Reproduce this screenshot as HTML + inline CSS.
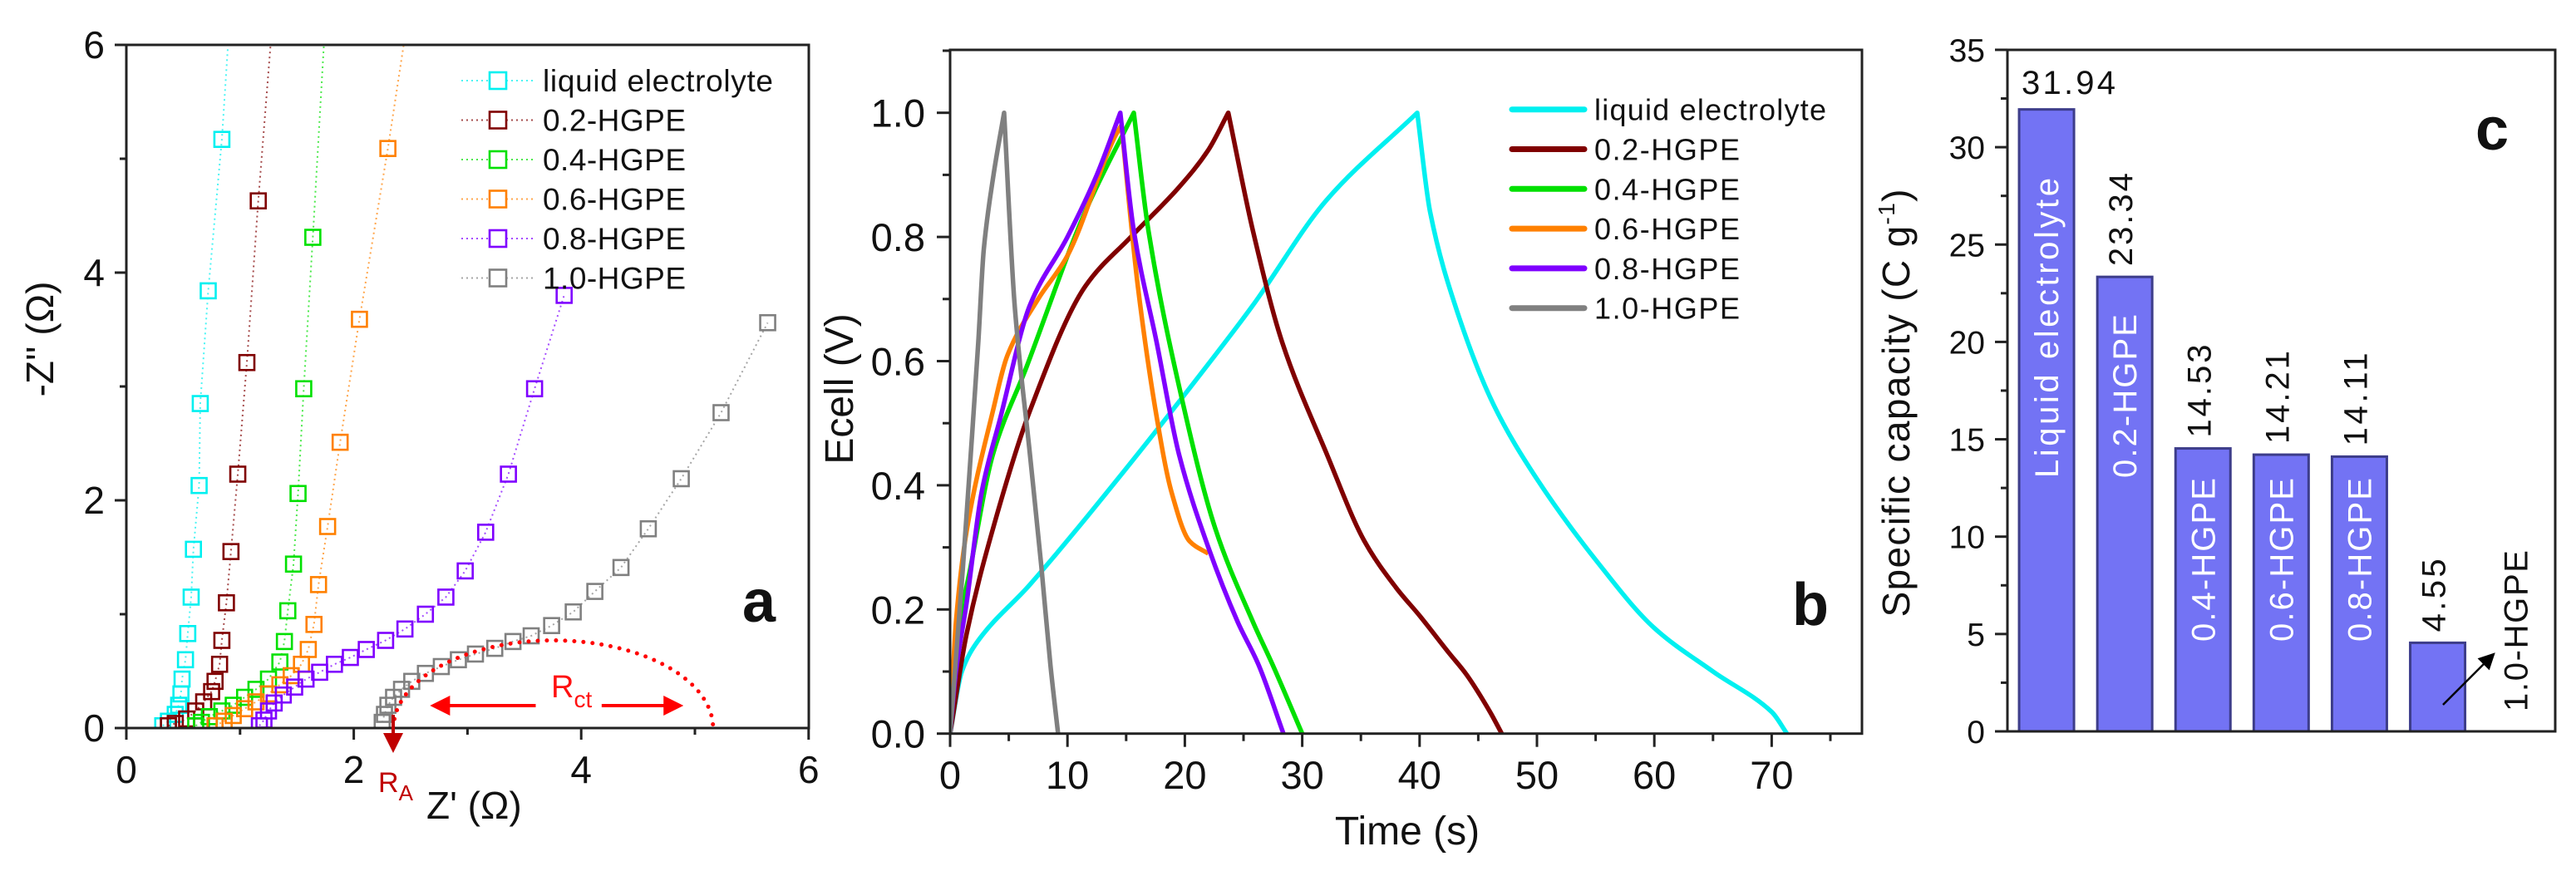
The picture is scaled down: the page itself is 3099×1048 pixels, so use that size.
<!DOCTYPE html>
<html><head><meta charset="utf-8"><style>
html,body{margin:0;padding:0;background:#fff;}
svg{display:block;font-family:"Liberation Sans",Arial,sans-serif;}
</style></head><body>
<svg id="chart" width="3099" height="1048" viewBox="0 0 3099 1048" xmlns="http://www.w3.org/2000/svg">
<defs>
<clipPath id="clipA"><rect x="152" y="54" width="821" height="822"/></clipPath>
<clipPath id="clipB"><rect x="1143" y="60" width="1097" height="823"/></clipPath>
<marker id="arrR" markerWidth="6" markerHeight="6" refX="5" refY="3" orient="auto" markerUnits="strokeWidth"><path d="M0,0 L6,3 L0,6 z" fill="#ff0000"/></marker>
<marker id="arrD" markerWidth="6" markerHeight="6" refX="5" refY="3" orient="auto" markerUnits="strokeWidth"><path d="M0,0 L6,3 L0,6 z" fill="#c00000"/></marker>
<marker id="arrK" markerWidth="8" markerHeight="8" refX="7" refY="4" orient="auto" markerUnits="strokeWidth"><path d="M0,0 L8,4 L0,8 z" fill="#000"/></marker>
</defs>
<g id="panelA"></g>
<g id="panelB"></g>
<g id="panelC"></g>
</svg>
<script>
// ---------- data: panel a (Nyquist) ----------
const seriesNames = ["liquid electrolyte","0.2-HGPE","0.4-HGPE","0.6-HGPE","0.8-HGPE","1.0-HGPE"];
const seriesColors = ["#00f0f0","#800000","#00e000","#ff8000","#7f00ff","#808080"];
const nyqLiquidX = [0.32,0.37,0.43,0.46,0.48,0.49,0.52,0.54,0.57,0.59,0.64,0.65,0.72,0.84,0.92];
const nyqLiquidY = [0.02,0.06,0.12,0.2,0.3,0.43,0.6,0.83,1.15,1.57,2.13,2.85,3.84,5.17,6.4];
const nyq02X = [0.37,0.43,0.53,0.61,0.68,0.75,0.78,0.82,0.84,0.88,0.92,0.98,1.06,1.16,1.3];
const nyq02Y = [0.02,0.04,0.08,0.15,0.23,0.32,0.41,0.56,0.77,1.1,1.55,2.23,3.21,4.63,6.4];
const nyq04X = [0.61,0.66,0.73,0.84,0.94,1.04,1.14,1.25,1.35,1.39,1.42,1.47,1.51,1.56,1.64,1.76];
const nyq04Y = [0.02,0.05,0.1,0.15,0.2,0.27,0.34,0.43,0.58,0.76,1.03,1.44,2.06,2.98,4.31,6.4];
const nyq06X = [0.78,0.86,0.94,1.04,1.14,1.25,1.35,1.45,1.54,1.6,1.65,1.69,1.77,1.88,2.05,2.3,2.5];
const nyq06Y = [0.02,0.06,0.11,0.17,0.23,0.3,0.38,0.46,0.56,0.69,0.91,1.26,1.77,2.51,3.59,5.09,6.4];
const nyq08X = [1.17,1.21,1.25,1.3,1.38,1.48,1.58,1.7,1.83,1.97,2.11,2.28,2.45,2.63,2.81,2.98,3.16,3.36,3.59,3.85];
const nyq08Y = [0.02,0.07,0.15,0.22,0.29,0.36,0.43,0.49,0.56,0.62,0.69,0.77,0.87,1.0,1.15,1.38,1.72,2.23,2.98,3.8];
const nyq10X = [2.25,2.27,2.3,2.35,2.42,2.51,2.63,2.77,2.92,3.07,3.24,3.4,3.56,3.74,3.93,4.12,4.35,4.59,4.88,5.23,5.64];
const nyq10Y = [0.05,0.12,0.2,0.27,0.34,0.41,0.48,0.54,0.6,0.65,0.7,0.76,0.81,0.9,1.02,1.2,1.41,1.75,2.19,2.77,3.56];
const nyqTicks = [0,2,4,6];
const rctStartEnd = [2.35,5.16];
const rctPeak = [3.72,0.77];

// ---------- data: panel b (GCD) ----------
const gcdLiquidT = [0,1,2.4,6.8,14.7,22.6,25.8,32.1,39.8,40.9,43.2,46.3,50,55,60,65,70,71.3];
const gcdLiquidV = [0,0.1,0.15,0.24,0.42,0.61,0.69,0.86,1.0,0.84,0.68,0.53,0.41,0.28,0.17,0.1,0.035,0];
const gcd02T = [0,1.4,3.65,6.8,11.5,15.4,19.5,22,23.7,25.8,28.3,32.1,35.3,38,40,42.5,44,46,47];
const gcd02V = [0,0.16,0.33,0.52,0.72,0.8,0.88,0.94,1.0,0.81,0.63,0.45,0.31,0.235,0.19,0.13,0.095,0.035,0];
const gcd04T = [0,0.6,1.76,3.65,6.5,11.5,15.65,16.9,19.5,22.6,25.8,27.5,30];
const gcd04V = [0,0.15,0.27,0.45,0.59,0.84,1.0,0.81,0.56,0.33,0.18,0.11,0];
const gcd06T = [0,0.5,1.44,3.65,4.9,7.5,10,14,14.6,16,17.6,18.85,20.4,22];
const gcd06V = [0,0.18,0.33,0.52,0.61,0.7,0.77,0.96,0.98,0.72,0.51,0.39,0.31,0.29];
const gcd08T = [0,0.5,1.4,2.7,4.3,6.8,10,12.5,14.5,15.65,17.6,19.5,22,24.5,26.3,28.4];
const gcd08V = [0,0.1,0.21,0.39,0.51,0.69,0.8,0.9,1.0,0.81,0.63,0.45,0.3,0.18,0.11,0];
const gcd10T = [0,1.1,1.76,2.4,2.87,3.7,4.6,5.5,6.8,7.77,8.55,9.2];
const gcd10V = [0,0.27,0.45,0.63,0.78,0.9,1.0,0.69,0.45,0.27,0.11,0];
const timeTicks = [0,10,20,30,40,50,60,70];
const voltTicks = [0,0.2,0.4,0.6,0.8,1.0];

// ---------- data: panel c (bars) ----------
const barCategories = ["Liquid electrolyte","0.2-HGPE","0.4-HGPE","0.6-HGPE","0.8-HGPE","1.0-HGPE"];
const barValues = [31.94,23.34,14.53,14.21,14.11,4.55];
const barValueLabels = ["31.94","23.34","14.53","14.21","14.11","4.55"];
const capTicks = [0,5,10,15,20,25,30,35];

const NS="http://www.w3.org/2000/svg";
function mk(parent,tag,attrs,text){const e=document.createElementNS(NS,tag);for(const k in attrs)e.setAttribute(k,attrs[k]);if(text!==undefined)e.textContent=text;parent.appendChild(e);return e;}

// ===== Panel A =====
(function(){
const g=document.getElementById('panelA');
const X=x=>152+x*136.8, Y=y=>876-y*137;
const data=[[nyqLiquidX,nyqLiquidY],[nyq02X,nyq02Y],[nyq04X,nyq04Y],[nyq06X,nyq06Y],[nyq08X,nyq08Y],[nyq10X,nyq10Y]];
const plot=mk(g,'g',{'clip-path':'url(#clipA)'});


data.forEach((d,i)=>{
  const sg=mk(plot,'g',{});
  
  
  const pts=d[0].map((x,j)=>X(x)+','+Y(d[1][j])).join(' ');
  mk(sg,'polyline',{points:pts,fill:'none',stroke:seriesColors[i],'stroke-width':2,'stroke-dasharray':'2,4',opacity:0.7});
  d[0].forEach((x,j)=>{
    const r=mk(sg,'rect',{x:X(x)-9,y:Y(d[1][j])-9,width:18,height:18,fill:'none',stroke:seriesColors[i],'stroke-width':2.6});
    
    
  });
});
const cx=(rctStartEnd[0]+rctStartEnd[1])/2, rx=(rctStartEnd[1]-rctStartEnd[0])/2;
let arc='';
for(let k=0;k<=60;k++){const th=Math.PI*k/60;const xx=cx-rx*Math.cos(th);const yy=rctPeak[1]*Math.sin(th);arc+=(k?'L':'M')+X(xx)+','+Y(yy);}
const arcEl=mk(plot,'path',{d:arc,fill:'none',stroke:'#ff0000','stroke-width':5,'stroke-dasharray':'0,11','stroke-linecap':'round'});


const fr=mk(g,'rect',{x:152,y:54,width:821,height:822,fill:'none',stroke:'#222','stroke-width':3});


for(let v=0;v<=6;v++){
  const maj=nyqTicks.includes(v);
  mk(g,'line',{x1:X(v),x2:X(v),y1:876,y2:876+(maj?14:8),stroke:'#222','stroke-width':3});
  mk(g,'line',{x1:152,x2:152-(maj?14:8),y1:Y(v),y2:Y(v),stroke:'#222','stroke-width':3});
}
nyqTicks.forEach(v=>{
  const t=mk(g,'text',{x:X(v),y:942,'font-size':46,'text-anchor':'middle',fill:'#111'},String(v));
  
  
  const t2=mk(g,'text',{x:126,y:Y(v)+16,'font-size':46,'text-anchor':'end',fill:'#111'},String(v));
  
  
});
const lg=mk(g,'g',{});


seriesNames.forEach((n,i)=>{
  const yy=97+i*47.5;
  mk(lg,'line',{x1:555,x2:645,y1:yy,y2:yy,stroke:seriesColors[i],'stroke-width':2,'stroke-dasharray':'2,4',opacity:0.7});
  mk(lg,'rect',{x:589,y:yy-10,width:20,height:20,fill:'#fff',stroke:seriesColors[i],'stroke-width':2.6});
  const t=mk(lg,'text',{x:653,y:yy+13,'font-size':37,fill:'#111'},n);
  
  
  if(i===0)t.setAttribute('textLength',277);else t.setAttribute('textLength',172);
});
mk(g,'line',{x1:X(3.6),x2:X(2.7),y1:849,y2:849,stroke:'#ff0000','stroke-width':4,'marker-end':'url(#arrR)'});
mk(g,'line',{x1:X(4.18),x2:X(4.87),y1:849,y2:849,stroke:'#ff0000','stroke-width':4,'marker-end':'url(#arrR)'});
const rt=mk(g,'text',{x:663,y:839,'font-size':38,fill:'#ff1010'});


rt.innerHTML='R<tspan font-size="28" dy="12">ct</tspan>';
mk(g,'line',{x1:473,x2:473,y1:860,y2:902,stroke:'#c00000','stroke-width':4,'marker-end':'url(#arrD)'});
const ra=mk(g,'text',{x:455,y:953,'font-size':34,fill:'#c00000'});


ra.innerHTML='R<tspan font-size="26" dy="10">A</tspan>';
const xt=mk(g,'text',{x:513,y:985,'font-size':46,fill:'#111'},"Z' (Ω)");


const yt=mk(g,'text',{x:0,y:0,'font-size':46,fill:'#111','text-anchor':'middle',transform:'translate(64,408) rotate(-90)'},"-Z'' (Ω)");


const pl=mk(g,'text',{x:893,y:748,'font-size':72,'font-weight':'bold',fill:'#111'},'a');


})();

// ===== Panel B =====
(function(){
const g=document.getElementById('panelB');
const X=t=>1143+t*14.12, Y=v=>882.7-v*747;
const data=[[gcdLiquidT,gcdLiquidV],[gcd02T,gcd02V],[gcd04T,gcd04V],[gcd06T,gcd06V],[gcd08T,gcd08V],[gcd10T,gcd10V]];
const plot=mk(g,'g',{'clip-path':'url(#clipB)'});


// monotone cubic (Fritsch-Carlson) path for one monotone piece, in pixel space
function monoPiece(xs,ys){
  const n=xs.length; if(n<2) return '';
  const P=xs.map((x,i)=>[X(x),Y(ys[i])]);
  const d=[],m=new Array(n);
  for(let i=0;i<n-1;i++) d.push((P[i+1][1]-P[i][1])/(P[i+1][0]-P[i][0]));
  m[0]=d[0]; m[n-1]=d[n-2];
  for(let i=1;i<n-1;i++){ m[i]=(d[i-1]*d[i]<=0)?0:(2/(1/d[i-1]+1/d[i])); }
  let s='';
  for(let i=0;i<n-1;i++){
    const h=P[i+1][0]-P[i][0];
    s+=' C'+(P[i][0]+h/3)+','+(P[i][1]+m[i]*h/3)+' '+(P[i+1][0]-h/3)+','+(P[i+1][1]-m[i+1]*h/3)+' '+P[i+1][0]+','+P[i+1][1];
  }
  return s;
}
function curve(xs,ys){
  let pk=0; ys.forEach((v,i)=>{if(v>ys[pk])pk=i;});
  let s='M'+X(xs[0])+','+Y(ys[0]);
  s+=monoPiece(xs.slice(0,pk+1),ys.slice(0,pk+1));
  s+=monoPiece(xs.slice(pk),ys.slice(pk));
  return s;
}
[0,1,2,3,4,5].forEach(i=>{
  const p=mk(plot,'path',{d:curve(data[i][0],data[i][1]),fill:'none',stroke:seriesColors[i],'stroke-width':5.5,'stroke-linejoin':'round'});
  
  
});
const fr=mk(g,'rect',{x:1143,y:60,width:1097,height:822.7,fill:'none',stroke:'#222','stroke-width':3});


for(let t=0;t<=75;t+=5){const maj=t%10===0;mk(g,'line',{x1:X(t),x2:X(t),y1:882.7,y2:882.7+(maj?16:9),stroke:'#222','stroke-width':3});}
for(let k=0;k<=11;k++){const v=k/10;const maj=k%2===0;mk(g,'line',{x1:1143,x2:1143-(maj?16:9),y1:Y(v),y2:Y(v),stroke:'#222','stroke-width':3});}
timeTicks.forEach(t=>{const e=mk(g,'text',{x:X(t),y:949,'font-size':47,'text-anchor':'middle',fill:'#111'},String(t));
  
  });
voltTicks.forEach(v=>{const e=mk(g,'text',{x:1113,y:Y(v)+17,'font-size':47,'text-anchor':'end',fill:'#111'},v.toFixed(1));
  
  });
const lg=mk(g,'g',{});


seriesNames.forEach((n,i)=>{
  const yy=131.7+i*47.8;
  mk(lg,'line',{x1:1819,x2:1906,y1:yy,y2:yy,stroke:seriesColors[i],'stroke-width':7,'stroke-linecap':'round'});
  const t=mk(lg,'text',{x:1918,y:yy+13,'font-size':36,fill:'#111'},n);
  
  
  t.setAttribute('textLength',i===0?279:175);
});
const xt=mk(g,'text',{x:1693,y:1016,'font-size':48,'text-anchor':'middle',fill:'#111'},'Time (s)');


const yt=mk(g,'text',{x:0,y:0,'font-size':48,'text-anchor':'middle',fill:'#111',transform:'translate(1026,468) rotate(-90)'},'Ecell (V)');


const pl=mk(g,'text',{x:2156,y:752,'font-size':72,'font-weight':'bold',fill:'#111'},'b');


})();

// ===== Panel C =====
(function(){
const g=document.getElementById('panelC');
const Y=v=>880-v*23.43;
const slot=94.1, X=i=>2415+(i+0.5)*slot, bw=66;
barValues.forEach((v,i)=>{
  const r=mk(g,'rect',{x:X(i)-bw/2,y:Y(v),width:bw,height:880-Y(v),fill:'#7373f4',stroke:'#3d3d8a','stroke-width':3});
  
  
});
barCategories.forEach((c,i)=>{
  let t;
  if(i<5){
    const bottom=i<2?575:772;
    const len=i===0?361:197;
    t=mk(g,'text',{x:0,y:0,'font-size':40,fill:'#fff',transform:'translate('+(X(i)+14)+','+bottom+') rotate(-90)',textLength:len},c);
  } else {
    t=mk(g,'text',{x:0,y:0,'font-size':40,fill:'#111',transform:'translate('+(X(6)+14)+',856) rotate(-90)',textLength:194},c);
  }
  
  
});
barValueLabels.forEach((s,i)=>{
  let t;
  if(i===0){
    t=mk(g,'text',{x:2432,y:113,'font-size':40,fill:'#111',textLength:113},s);
  } else {
    t=mk(g,'text',{x:0,y:0,'font-size':40,fill:'#111',transform:'translate('+(X(i)+9)+','+(Y(barValues[i])-13)+') rotate(-90)',textLength:s.length===5?112:88},s);
  }
  
  
});
const ar=mk(g,'line',{x1:2939,y1:848,x2:3000,y2:787,stroke:'#000','stroke-width':2.5,'marker-end':'url(#arrK)'});


const fr=mk(g,'rect',{x:2415,y:60,width:659,height:820,fill:'none',stroke:'#222','stroke-width':3});


for(let v=0;v<=35;v+=2.5){const maj=v%5===0;mk(g,'line',{x1:2415,x2:2415-(maj?15:8),y1:Y(v),y2:Y(v),stroke:'#222','stroke-width':3});}
capTicks.forEach(v=>{const e=mk(g,'text',{x:2388,y:Y(v)+14,'font-size':39,'text-anchor':'end',fill:'#111'},String(v));
  
  });
const yt=mk(g,'text',{x:0,y:0,'font-size':46,'text-anchor':'middle',fill:'#111',transform:'translate(2297,485) rotate(-90)',textLength:515});


yt.innerHTML='Specific capacity (C g<tspan font-size="28" dy="-18">-1</tspan><tspan dy="18">)</tspan>';
const pl=mk(g,'text',{x:2978,y:180,'font-size':72,'font-weight':'bold',fill:'#111'},'c');


})();
</script>
</body></html>
